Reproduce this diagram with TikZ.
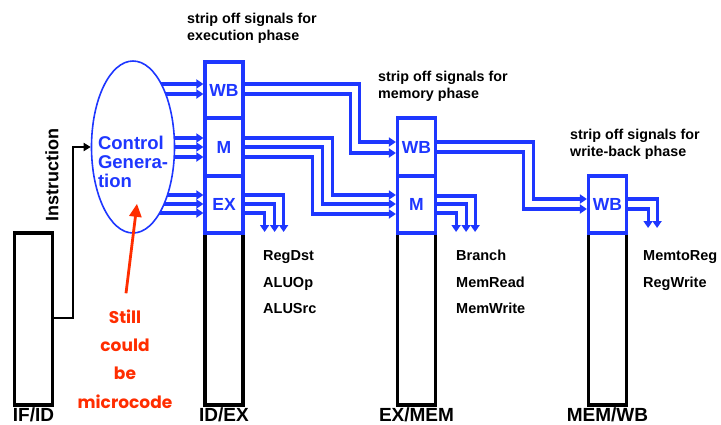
\documentclass[tikz,border=0pt]{standalone}
\usepackage{fontspec}
\setmainfont{Liberation Sans}
\newfontfamily\notefont{Poppins}
\usetikzlibrary{positioning,arrows.meta,shapes.geometric,calc}
\definecolor{ctlblue}{RGB}{30,55,255}
\definecolor{notered}{RGB}{255,45,0}

\begin{document}
\begin{tikzpicture}[
  x=1pt, y=-1pt,
  reg/.style={draw, line width=3.2pt, minimum width=38pt, minimum height=172pt, inner sep=0pt},
  field/.style={draw=ctlblue, line width=3.2pt, minimum width=38pt, inner sep=0pt, text=ctlblue, font=\bfseries\fontsize{17.5}{17.5}\selectfont},
  sig/.style={draw=ctlblue, line width=3.2pt, -{Triangle[length=7pt,width=9pt]}},
  regname/.style={anchor=base, inner sep=0pt, font=\bfseries\fontsize{19}{19}\selectfont},
  note/.style={align=left, anchor=base west, inner sep=0pt, font=\bfseries\fontsize{14.3}{17}\selectfont},
  signame/.style={anchor=base west, inner sep=0pt, font=\bfseries\fontsize{14.5}{14.5}\selectfont}
]
\useasboundingbox (0,0) rectangle (721,424);

% pipeline registers, lower (black) parts
\node[reg] (ifid) at (33.5,319) {};
\node[reg] (idex) at (224,319) {};
\node[reg] (exmem) at (416.5,319) {};
\node[reg] (memwb) at (607.5,319) {};

% control fields carried in the registers
\node[field, minimum height=56pt] (idexwb) at (224,90) {WB};
\node[field, minimum height=58pt] (idexm) at (224,147) {M};
\node[field, minimum height=57pt] (idexex) at (224,204.5) {EX};
\node[field, minimum height=58pt] (exmemwb) at (416.5,147) {WB};
\node[field, minimum height=57pt] (exmemm) at (416.5,204.5) {M};
\node[field, minimum height=57pt] (memwbwb) at (607.5,204.5) {WB};

% control unit
\coordinate (gen) at (133,147);
\draw[sig] (gen |- 0,84) -- (idexwb.west |- 0,84);
\draw[sig] (gen |- 0,94) -- (idexwb.west |- 0,94);
\draw[sig] (gen |- 0,138) -- (idexm.west |- 0,138);
\draw[sig] (gen |- 0,147) -- (idexm.west |- 0,147);
\draw[sig] (gen |- 0,157) -- (idexm.west |- 0,157);
\draw[sig] (gen |- 0,195) -- (idexex.west |- 0,195);
\draw[sig] (gen |- 0,204) -- (idexex.west |- 0,204);
\draw[sig] (gen |- 0,213) -- (idexex.west |- 0,213);
\node[ellipse, draw=ctlblue, line width=1.6pt, fill=white, minimum width=83pt, minimum height=172pt, inner sep=0pt] (ctrl) at (gen) {};
\node[align=left, text=ctlblue, inner sep=0pt, font=\bfseries\fontsize{18.5}{19}\selectfont] (gentext) at (133,162) {Control\\Genera-\\tion};

% instruction into control
\draw[line width=2.6pt, -{Triangle[length=7pt,width=8pt]}] (ifid.east |- 0,318) -- ++(19,0) |- (ctrl.west);
\node[rotate=90, inner sep=0pt, font=\bfseries\fontsize{18}{18}\selectfont] (instr) at (52,175) {Instruction};

% ID/EX -> EX/MEM
\draw[sig] (idexwb.east |- 0,84) -- ++(115,0) |- (exmemwb.west |- 0,142);
\draw[sig] (idexwb.east |- 0,94) -- ++(106,0) |- (exmemwb.west |- 0,153);
\draw[sig] (idexm.east |- 0,138) -- ++(88,0) |- (exmemm.west |- 0,195);
\draw[sig] (idexm.east |- 0,147) -- ++(78,0) |- (exmemm.west |- 0,204);
\draw[sig] (idexm.east |- 0,157) -- ++(68,0) |- (exmemm.west |- 0,214);
\draw[sig] (idexex.east |- 0,195) -| ++(39,37);
\draw[sig] (idexex.east |- 0,204) -| ++(30,28);
\draw[sig] (idexex.east |- 0,213) -| ++(20,19);

% EX/MEM -> MEM/WB
\draw[sig] (exmemwb.east |- 0,142) -- ++(96,0) |- (memwbwb.west |- 0,199);
\draw[sig] (exmemwb.east |- 0,152) -- ++(86,0) |- (memwbwb.west |- 0,209);
\draw[sig] (exmemm.east |- 0,196) -| ++(38,36);
\draw[sig] (exmemm.east |- 0,204) -| ++(29,28);
\draw[sig] (exmemm.east |- 0,213) -| ++(19,19);

% MEM/WB
\draw[sig] (memwbwb.east |- 0,199) -| ++(29,29);
\draw[sig] (memwbwb.east |- 0,209) -| ++(20,19);

% stripped signals
\node[signame] (regdst) at (263,260) {RegDst};
\node[signame] (aluop) at (263,287) {ALUOp};
\node[signame] (alusrc) at (263,313) {ALUSrc};
\node[signame] (branch) at (456,260) {Branch};
\node[signame] (memread) at (456,287) {MemRead};
\node[signame] (memwrite) at (456,313) {MemWrite};
\node[signame] (memtoreg) at (643,260) {MemtoReg};
\node[signame] (regwrite) at (643,287) {RegWrite};

% phase notes
\node[note] (exnote) at (187,40) {strip off signals for\\execution phase};
\node[note] (memnote) at (378,98) {strip off signals for\\memory phase};
\node[note] (wbnote) at (570,156) {strip off signals for\\write-back phase};

% register names
\node[regname] (ifidname) at (ifid.south |- 0,421) {IF/ID};
\node[regname] (idexname) at (idex.south |- 0,421) {ID/EX};
\node[regname] (exmemname) at (exmem.south |- 0,421) {EX/MEM};
\node[regname] (memwbname) at (memwb.south |- 0,421) {MEM/WB};

% remark
\node[align=center, anchor=base, inner sep=0pt, text=notered, font=\notefont\bfseries\fontsize{17}{28.3}\selectfont] (remark) at (125,408) {Still\\could\\be\\microcode};
\draw[notered, line width=2.8pt, -{Triangle[length=13pt,width=12pt]}] ($(remark.north)+(1,-16)$) -- ($(ctrl.south)+(4,-30)$);
\end{tikzpicture}
\end{document}
